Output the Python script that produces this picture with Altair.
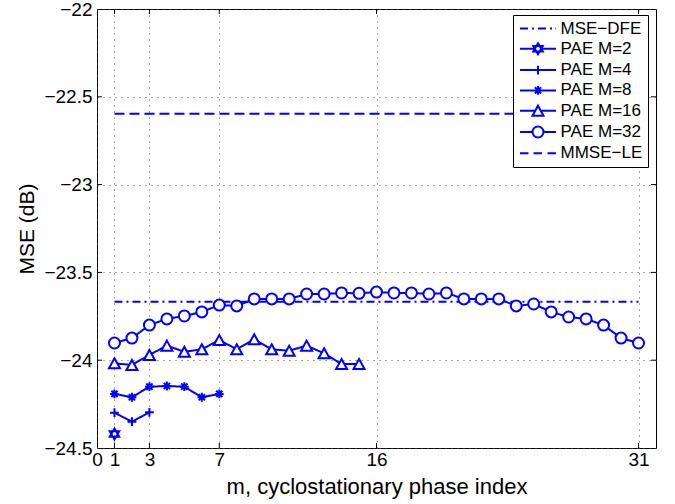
import altair as alt
import pandas as pd

# ---------------- data ----------------
m_pae32 = list(range(1, 32))
v_pae32 = [-23.902, -23.874, -23.800, -23.765, -23.748, -23.725, -23.686, -23.691,
           -23.651, -23.651, -23.651, -23.623, -23.623, -23.617, -23.619, -23.612,
           -23.617, -23.617, -23.623, -23.617, -23.651, -23.651, -23.651, -23.691,
           -23.680, -23.725, -23.754, -23.765, -23.800, -23.874, -23.902]
m_pae16 = list(range(1, 16))
v_pae16 = [-24.018, -24.027, -23.970, -23.917, -23.952, -23.938, -23.885, -23.938,
           -23.881, -23.938, -23.946, -23.917, -23.961, -24.022, -24.022]
m_pae8 = list(range(1, 8))
v_pae8 = [-24.192, -24.211, -24.151, -24.147, -24.151, -24.211, -24.192]
m_pae4 = [1, 2, 3]
v_pae4 = [-24.299, -24.350, -24.297]
m_pae2 = [1]
v_pae2 = [-24.420]
m_ref = [1, 31]
v_dfe = [-23.667, -23.667]
v_le = [-22.596, -22.596]

series_names = ["MSE−DFE", "PAE M=2", "PAE M=4", "PAE M=8", "PAE M=16", "PAE M=32", "MMSE−LE"]
pae_names = ["PAE M=2", "PAE M=4", "PAE M=8", "PAE M=16", "PAE M=32"]
x_ticks = [0, 1, 3, 7, 16, 31]
y_ticks = [-22, -22.5, -23, -23.5, -24, -24.5]

rows = []
for name, ms, vs in [("MSE−DFE", m_ref, v_dfe), ("PAE M=2", m_pae2, v_pae2),
                     ("PAE M=4", m_pae4, v_pae4), ("PAE M=8", m_pae8, v_pae8),
                     ("PAE M=16", m_pae16, v_pae16), ("PAE M=32", m_pae32, v_pae32),
                     ("MMSE−LE", m_ref, v_le)]:
    for m, v in zip(ms, vs):
        rows.append({"series": name, "m": m, "mse": v})
df = pd.DataFrame(rows)
df_first = df.groupby("series", as_index=False).first()

# ---------------- styling ----------------
BLUE = "#0000ff"
FONT = "Liberation Sans"
W, H = 559, 439
U = 5.5  # px per path unit at size 121


def fmt(v):
    return ("%.4f" % v).rstrip("0").rstrip(".")


def poly(pts, close=True):
    p = "M" + "L".join(f"{fmt(x)},{fmt(y)}" for x, y in pts)
    return p + ("Z" if close else "")


def marker(kind):
    if kind == "circle":
        return "M1,0A1,1 0 1 1 -1,0A1,1 0 1 1 1,0Z"
    if kind == "triangle":
        return poly([(0, -0.91), (1, 0.91), (-1, 0.91)])
    if kind == "plus":
        return poly([(-0.8, 0), (0.8, 0)], False) + poly([(0, -0.8), (0, 0.8)], False)
    if kind == "star":
        d = 0.57
        return (poly([(-0.8, 0), (0.8, 0)], False) + poly([(0, -0.8), (0, 0.8)], False)
                + poly([(-d, -d), (d, d)], False) + poly([(-d, d), (d, -d)], False))
    if kind == "hexagram":
        return (poly([(0, -1), (0.866, 0.5), (-0.866, 0.5)])
                + poly([(0, 1), (0.866, -0.5), (-0.866, -0.5)]))


kinds = {"PAE M=2": "hexagram", "PAE M=4": "plus", "PAE M=8": "star",
         "PAE M=16": "triangle", "PAE M=32": "circle"}
gaps = {"hexagram": 0.577, "plus": 0, "star": 0, "triangle": 0.5, "circle": 1.0}

chart_shapes = [marker(kinds[n]) for n in pae_names]


def seg(a, b):
    # a, b in px along a 36 px legend line
    return f"M{fmt((a - 18) / U)},0L{fmt((b - 18) / U)},0"


legend_shapes = []
for n in series_names:
    if n == "MSE−DFE":
        legend_shapes.append(seg(0, 8) + seg(12, 14) + seg(18, 26) + seg(30, 32) + seg(35.5, 36))
    elif n == "MMSE−LE":
        legend_shapes.append(seg(0, 8.5) + seg(13.5, 22) + seg(27.5, 36))
    else:
        k = kinds[n]
        g = gaps[k] * U
        if g > 0:
            line = seg(0, 18 - g) + seg(18 + g, 36)
        else:
            line = seg(0, 36)
        legend_shapes.append(line + marker(k))

dash_range = [[8, 4, 2, 4], [1, 0], [1, 0], [1, 0], [1, 0], [1, 0], [10, 5]]

xscale = alt.Scale(domain=[0, 32], nice=False, zero=False)
yscale = alt.Scale(domain=[-24.5, -22], nice=False, zero=False)
xaxis = alt.Axis(values=x_ticks, title="m, cyclostationary phase index", grid=True,
                 ticks=False, tickSize=0, domain=False, labelOverlap=False, labelFlush=False,
                 labelPadding=2, labelFontSize=19, titleFontSize=22, titleFontWeight="normal",
                 titleY=45, titleBaseline="alphabetic")
yaxis = alt.Axis(values=y_ticks, title="MSE (dB)", grid=True, format="~g",
                 ticks=False, tickSize=0, domain=False, labelOverlap=False, labelFlush=False,
                 labelPadding=5, labelFontSize=19, titleFontSize=21, titleFontWeight="normal",
                 titleX=-70, titleY=H / 2, titleBaseline="middle", titleAlign="center")

xenc = alt.X("m:Q", scale=xscale, axis=xaxis)
yenc = alt.Y("mse:Q", scale=yscale, axis=yaxis)

lines = alt.Chart(df).mark_line(color=BLUE, strokeWidth=2).encode(
    x=xenc, y=yenc,
    strokeDash=alt.StrokeDash("series:N", scale=alt.Scale(domain=series_names, range=dash_range),
                              legend=None),
)

points = alt.Chart(df).transform_filter(
    alt.FieldOneOfPredicate(field="series", oneOf=pae_names)
).mark_point(color=BLUE, stroke=BLUE, fill="white", filled=False, fillOpacity=1,
             strokeWidth=2, size=121, opacity=1).encode(
    x=xenc, y=yenc,
    shape=alt.Shape("series:N", scale=alt.Scale(domain=pae_names, range=chart_shapes), legend=None),
)

legend_layer = alt.Chart(df_first).mark_point(color=BLUE, strokeWidth=2, opacity=0, size=121).encode(
    x=xenc, y=yenc,
    shape=alt.Shape("series:N", scale=alt.Scale(domain=series_names, range=legend_shapes),
                    legend=alt.Legend(title=None, orient="none", legendX=416, legendY=6,
                                      fillColor="white", strokeColor="black", padding=5,
                                      cornerRadius=0, symbolSize=121, symbolStrokeWidth=2,
                                      symbolStrokeColor=BLUE, symbolFillColor="white",
                                      symbolOpacity=1, symbolOffset=11.5,
                                      labelFont=FONT, labelFontSize=17,
                                      labelColor="black", labelOffset=14, labelLimit=0,
                                      rowPadding=2.3)),
)

xt_df = pd.DataFrame({"m": x_ticks[1:]})
yt_df = pd.DataFrame({"mse": y_ticks[1:-1]})
tick_b = alt.Chart(xt_df).mark_rule(color="black", strokeWidth=1).encode(
    x=xenc, y=alt.value(H), y2=alt.value(H - 5))
tick_t = alt.Chart(xt_df).mark_rule(color="black", strokeWidth=1).encode(
    x=xenc, y=alt.value(0), y2=alt.value(5))
tick_l = alt.Chart(yt_df).mark_rule(color="black", strokeWidth=1).encode(
    y=yenc, x=alt.value(0), x2=alt.value(5))
tick_r = alt.Chart(yt_df).mark_rule(color="black", strokeWidth=1).encode(
    y=yenc, x=alt.value(W), x2=alt.value(W - 5))

chart = alt.layer(lines, points, legend_layer, tick_b, tick_t, tick_l, tick_r).resolve_scale(
    shape="independent"
).properties(
    width=W, height=H,
    padding={"left": 97, "top": 9, "right": 19, "bottom": 56},
    autosize=alt.AutoSizeParams(type="none"),
    background="white",
).configure_view(
    stroke="black", strokeWidth=1
).configure_axis(
    labelFont=FONT, titleFont=FONT, labelColor="black", titleColor="black",
    gridColor="#555555", gridDash=[1, 5], gridWidth=1, gridOpacity=1,
)

chart.save("out.html", embed_options={"renderer": "svg", "actions": False})
